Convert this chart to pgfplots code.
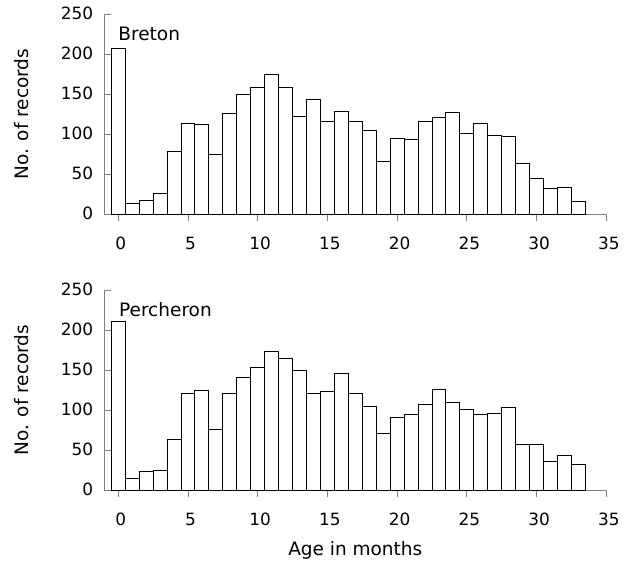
\documentclass[border=0pt]{standalone}
\usepackage{pgfplots}
\pgfplotsset{compat=1.18}
\usepackage{fontspec}
\setmainfont{DejaVu Sans}
\begin{document}
\fontsize{18.5}{22}\selectfont
\begin{tikzpicture}
\pgfplotsset{
  hist/.style={
    scale only axis, width=502pt, height=200.3pt,
    xmin=-1, xmax=35, ymin=0, ymax=250,
    axis x line*=bottom, axis y line*=left,
    axis line style={draw=gray, line width=0.8pt, -},
    tick align=inside, major tick length=7pt,
    tick style={draw=gray, line width=0.8pt},
    xtick={0,5,...,35}, ytick={0,50,...,250},
    /pgf/number format/assume math mode=true,
    ticklabel style={font=\fontsize{16.9}{20}\selectfont, inner sep=0pt},
    xticklabel style={anchor=base, yshift=-28pt, xshift=2.5pt},
    yticklabel style={anchor=east, yshift=1pt, xshift=-11pt},
    ylabel={No. of records},
    ylabel style={at={(axis description cs:-0.164,0.5)}, anchor=center},
    ybar, bar width=1, bar shift=0pt,
    clip=false,
  }
}
\begin{axis}[hist, at={(0pt,0pt)}, anchor=south west]
\addplot[draw=black, fill=white, line width=0.9pt] coordinates {
(0,207) (1,14) (2,17) (3,26) (4,78) (5,114) (6,112) (7,75) (8,126) (9,149)
(10,158) (11,174) (12,158) (13,122) (14,143) (15,116) (16,128) (17,116) (18,105) (19,66)
(20,95) (21,94) (22,116) (23,121) (24,127) (25,101) (26,113) (27,99) (28,97) (29,63)
(30,45) (31,32) (32,33) (33,16)
};
\node[anchor=base west, inner sep=0pt] at (axis cs:0.0,217.5) {Breton};
\end{axis}
\begin{axis}[hist, at={(0pt,-276pt)}, anchor=south west,
  xlabel={Age in months},
  xlabel style={at={(axis description cs:0.5,0)}, anchor=base, inner sep=0pt, yshift=-65pt}]
\addplot[draw=black, fill=white, line width=0.9pt] coordinates {
(0,211) (1,15) (2,24) (3,25) (4,63) (5,121) (6,125) (7,76) (8,121) (9,141)
(10,153) (11,173) (12,165) (13,150) (14,121) (15,123) (16,146) (17,121) (18,105) (19,71)
(20,91) (21,95) (22,107) (23,126) (24,110) (25,101) (26,95) (27,96) (28,104) (29,57)
(30,57) (31,36) (32,44) (33,32)
};
\node[anchor=base west, inner sep=0pt] at (axis cs:0.05,216.8) {Percheron};
\end{axis}
\pgfresetboundingbox
\path[use as bounding box] (-104.3pt,-347.7pt) rectangle (529.7pt,214.3pt);
\end{tikzpicture}
\end{document}
